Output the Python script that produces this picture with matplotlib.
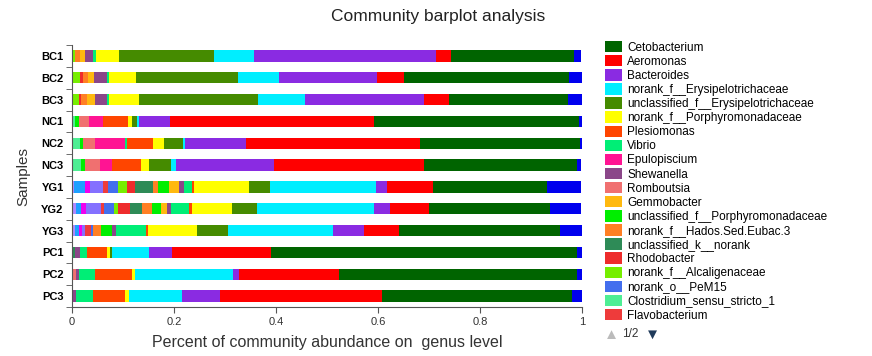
import matplotlib.pyplot as plt
import numpy as np

plt.rcParams['font.family'] = ['Liberation Sans', 'DejaVu Sans']

samples = ["BC1", "BC2", "BC3", "NC1", "NC2", "NC3", "YG1", "YG2", "YG3", "PC1", "PC2", "PC3"]

# abundance per genus, same order as samples
cetobacterium = [0.241, 0.324, 0.233, 0.403, 0.313, 0.301, 0.2235, 0.2365, 0.315, 0.600, 0.4655, 0.3725]
aeromonas = [0.029, 0.052, 0.048, 0.400, 0.341, 0.294, 0.0915, 0.076, 0.0686, 0.1927, 0.1973, 0.3169]
bacteroides = [0.357, 0.193, 0.234, 0.060, 0.120, 0.193, 0.0215, 0.031, 0.062, 0.0457, 0.0118, 0.0753]
norank_erysip = [0.078, 0.080, 0.092, 0.004, 0.004, 0.009, 0.208, 0.231, 0.2047, 0.073, 0.1916, 0.1039]
unclass_erysip = [0.186, 0.200, 0.233, 0.011, 0.038, 0.043, 0.040, 0.048, 0.062, 0.003, 0, 0]
norank_porph = [0.046, 0.053, 0.059, 0.0075, 0.020, 0.016, 0.108, 0.078, 0.095, 0.0075, 0.0053, 0.0078]
plesiomonas = [0, 0, 0, 0.048, 0.052, 0.056, 0.0045, 0.0065, 0.0045, 0.039, 0.0731, 0.0627]
vibrio = [0.005, 0.005, 0.005, 0, 0.003, 0, 0.015, 0.036, 0.059, 0.013, 0.0308, 0.0325]
epulopiscium = [0, 0, 0, 0.028, 0.059, 0.025, 0, 0, 0, 0, 0, 0]
shewanella = [0.017, 0.024, 0.022, 0, 0, 0, 0.010, 0.0065, 0.0085, 0.0098, 0.0065, 0.0065]
romboutsia = [0, 0, 0, 0.020, 0.024, 0.029, 0, 0, 0, 0, 0.0078, 0]
gemmobacter = [0.009, 0.013, 0.016, 0, 0, 0, 0.020, 0.013, 0, 0, 0, 0]
unclass_porph = [0, 0, 0, 0.0067, 0.0065, 0.008, 0.021, 0.016, 0.0216, 0, 0, 0]
hados = [0.011, 0.010, 0.013, 0, 0, 0, 0.010, 0.0196, 0.0145, 0, 0, 0]
unclass_k = [0, 0, 0, 0, 0, 0, 0.035, 0.024, 0, 0.006, 0, 0.002]
rhodobacter = [0, 0.006, 0.004, 0, 0, 0, 0.016, 0.0235, 0, 0, 0, 0]
alcaligenaceae = [0.005, 0.015, 0.013, 0, 0, 0, 0.018, 0.009, 0, 0, 0, 0]
pem15 = [0, 0, 0, 0, 0, 0, 0.020, 0.018, 0.005, 0, 0, 0]
clostridium = [0, 0, 0, 0.0065, 0.015, 0.017, 0, 0, 0, 0, 0, 0]
flavobacterium = [0, 0, 0, 0, 0, 0, 0.010, 0.0067, 0.011, 0, 0, 0]

# genera listed on the second legend page
page2_a = [0, 0, 0, 0, 0, 0, 0.0045, 0.008, 0.005, 0, 0, 0]
page2_b = [0, 0, 0, 0, 0, 0, 0.0216, 0.010, 0.008, 0, 0, 0]
page2_c = [0, 0, 0, 0, 0, 0, 0.009, 0.010, 0.0065, 0, 0, 0]
page2_d = [0, 0, 0, 0, 0, 0, 0.025, 0.029, 0.006, 0, 0, 0]
others = [0.014, 0.025, 0.028, 0.006, 0.006, 0.008, 0.066, 0.062, 0.043, 0.013, 0.0104, 0.019]

genus = ["Cetobacterium", "Aeromonas", "Bacteroides", "norank_f__Erysipelotrichaceae",
         "unclassified_f__Erysipelotrichaceae", "norank_f__Porphyromonadaceae", "Plesiomonas",
         "Vibrio", "Epulopiscium", "Shewanella", "Romboutsia", "Gemmobacter",
         "unclassified_f__Porphyromonadaceae", "norank_f__Hados.Sed.Eubac.3", "unclassified_k__norank",
         "Rhodobacter", "norank_f__Alcaligenaceae", "norank_o__PeM15", "Clostridium_sensu_stricto_1",
         "Flavobacterium"]
abund = [cetobacterium, aeromonas, bacteroides, norank_erysip, unclass_erysip, norank_porph,
         plesiomonas, vibrio, epulopiscium, shewanella, romboutsia, gemmobacter, unclass_porph,
         hados, unclass_k, rhodobacter, alcaligenaceae, pem15, clostridium, flavobacterium]
colores = ["#006400", "#FF0000", "#8A2BE2", "#00EEFF", "#458B00", "#FFFF00", "#FF4500",
           "#00EE76", "#FF1493", "#8B4789", "#F07070", "#FFB90F", "#00EE00", "#FF7F24",
           "#2E8B57", "#EE2C2C", "#76EE00", "#436EEE", "#4EEE94", "#EE3B3B"]

extra = [page2_a, page2_b, page2_c, page2_d]
extra_col = ["#B088FF", "#1EA0FF", "#EE00EE", "#8470FF"]

fig = plt.figure(figsize=(8.72, 3.56), dpi=100)
ax = fig.add_axes([72/872, 1-307/356, 510/872, 262/356])

y = np.arange(len(samples))
izq = np.zeros(len(samples))
h = 0.52

# lo menos abundante a la izquierda
for vals, c in zip(extra, extra_col):
    ax.barh(y, vals, left=izq, height=h, color=c, edgecolor="none")
    izq = izq + np.array(vals)

handles = {}
for i in range(len(genus)-1, -1, -1):
    b = ax.barh(y, abund[i], left=izq, height=h, color=colores[i], edgecolor="none", label=genus[i])
    handles[i] = b
    izq = izq + np.array(abund[i])

ax.barh(y, others, left=izq, height=h, color="#0000EE", edgecolor="none")

ax.set_xlim(0, 1)
ax.set_ylim(len(samples)-0.5, -0.5)
ax.set_xticks([0, 0.2, 0.4, 0.6, 0.8, 1])
ax.set_xticklabels(["0", "0.2", "0.4", "0.6", "0.8", "1"], fontsize=8, color="#333333")
ax.set_yticks(y)
ax.set_yticklabels(samples, fontsize=8, fontweight="bold")
ax.set_yticks(np.arange(-0.5, len(samples)), minor=True)
ax.tick_params(axis="y", which="major", length=0, pad=6)
ax.tick_params(axis="y", which="minor", length=4, color="#555555")
ax.tick_params(axis="x", length=4, color="#555555", pad=3)
for s in ["top", "right"]:
    ax.spines[s].set_visible(False)
for s in ["left", "bottom"]:
    ax.spines[s].set_color("#555555")

ax.set_ylabel("Samples", fontsize=11, labelpad=8, color="#333333")
ax.set_xlabel("Percent of community abundance on  genus level", fontsize=11.5, color="#333333", labelpad=6)

fig.text(0.503, 0.955, "Community barplot analysis", fontsize=12.5, ha="center", va="center", color="#222222")

fig.legend([handles[i] for i in range(len(genus))], genus, loc="upper left",
           bbox_to_anchor=(605/872, 1-41/356), frameon=False, fontsize=8.5,
           handlelength=1.4, handleheight=1.1, handletextpad=0.5, labelspacing=0.12,
           borderpad=0, borderaxespad=0)

fig.text(611/872, 1-335/356, "\u25B2", fontsize=11, color="#BBBBBB", ha="center", va="center")
fig.text(622/872, 1-334/356, "1/2", fontsize=8.5, color="#333333", ha="left", va="center")
fig.text(652/872, 1-335/356, "\u25BC", fontsize=11, color="#1F3A5A", ha="center", va="center")

plt.savefig("out.png", dpi=100)
